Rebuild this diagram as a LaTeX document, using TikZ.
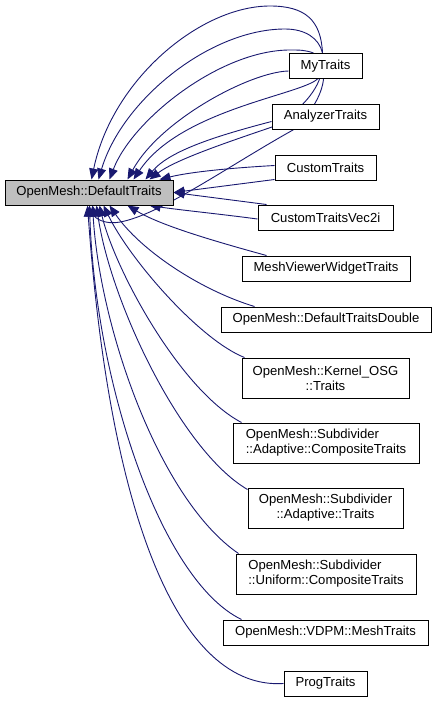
\documentclass[tikz,border=0pt]{standalone}
\usepackage{fontspec}
\setmainfont{Liberation Sans}
\usetikzlibrary{arrows.meta}
\pgfdeclarelayer{bg}
\pgfsetlayers{bg,main}
\definecolor{edgeblue}{HTML}{191970}
\definecolor{greyfill}{HTML}{BFBFBF}
\begin{document}
\begin{tikzpicture}[x=1pt,y=-1pt,
  cls/.style={draw=black, line width=1pt, fill=white, inner sep=0pt,
    minimum height=25pt, font=\fontsize{13.1}{15}\selectfont},
  edge/.style={draw=edgeblue, line width=0.9pt,
    -{Triangle[length=11pt,width=9pt]}, fill=none}]
\useasboundingbox (0,0) rectangle (436,702);

\node[cls, fill=greyfill, minimum width=168pt] (main) at (89,192.5) {OpenMesh::DefaultTraits};
\node[cls, minimum width=73pt] (my) at (325.5,66) {MyTraits};
\node[cls, minimum width=107pt] (an) at (325.5,116.5) {AnalyzerTraits};
\node[cls, minimum width=101pt] (ct) at (325.5,167.5) {CustomTraits};
\node[cls, minimum width=135pt] (cv) at (325.5,217.5) {CustomTraitsVec2i};
\node[cls, minimum width=168pt] (mv) at (326,268.5) {MeshViewerWidgetTraits};
\node[cls, minimum width=210pt] (dd) at (326,319.5) {OpenMesh::DefaultTraitsDouble};
\node[cls, minimum width=167pt, minimum height=40pt, align=center] (ko) at (325.5,378) {OpenMesh::Kernel\_OSG\\::Traits};
\node[cls, minimum width=186pt, minimum height=40pt, align=left] (ac) at (326,443) {OpenMesh::Subdivider\\::Adaptive::CompositeTraits};
\node[cls, minimum width=155pt, minimum height=40pt, align=center] (at) at (325.5,508) {OpenMesh::Subdivider\\::Adaptive::Traits};
\node[cls, minimum width=180pt, minimum height=40pt, align=left] (uc) at (326,574) {OpenMesh::Subdivider\\::Uniform::CompositeTraits};
\node[cls, minimum width=205pt] (vd) at (325.5,632.5) {OpenMesh::VDPM::MeshTraits};
\node[cls, minimum width=83pt] (pt) at (325.5,683.5) {ProgTraits};

\begin{pgfonlayer}{bg}
% edges into the top of the base class
\draw[edge] ([xshift=-3pt]my.north) .. controls (321,20) and (305,6) .. (270,6)
   .. controls (200,6) and (112,80) .. ([xshift=87pt]main.north west);
\draw[edge] ([xshift=-3pt]my.north) .. controls (319,38) and (305,29) .. (285,29)
   .. controls (210,29) and (122,100) .. ([xshift=94pt]main.north west);
\draw[edge] ([xshift=-12pt]my.north) .. controls (305,50) and (300,50) .. (290,50)
   .. controls (220,50) and (132,120) .. ([xshift=105pt]main.north west);
\draw[edge] ([yshift=-5pt]my.west) .. controls (250,72) and (160,120) .. ([xshift=123pt]main.north west);
\draw[edge] ([xshift=-8pt]my.south) .. controls (300,95) and (180,110) .. ([xshift=129pt]main.north west);
\draw[edge] ([yshift=-5pt]an.west) .. controls (220,135) and (170,150) .. ([xshift=141pt]main.north west);
\draw[edge] ([xshift=-6pt]my.south) .. controls (315,92) and (300,112) .. (272,127)
   .. controls (225,143) and (175,160) .. ([xshift=145pt]main.north west);
\draw[edge] ([yshift=2pt]ct.west) .. controls (230,168) and (190,172) .. ([xshift=155pt]main.north west);
% edges into the right side
\draw[edge] ([yshift=-12pt]ct.west) -- (main.east);
\draw[edge] ([xshift=9pt]cv.north west) -- (main.east);
% edges into the bottom
\draw[edge] ([yshift=-1.5pt]cv.west) .. controls (220,214) and (180,210) .. ([xshift=145pt]main.south west);
\draw[edge] ([xshift=-2pt]my.south) .. controls (322,95) and (310,115) .. (293,130)
   .. controls (230,165) and (160,215) .. (120,222)
   .. controls (105,225) and (95,218) .. ([xshift=88pt]main.south west);
\draw[edge] ([xshift=25pt]mv.north west) .. controls (210,240) and (160,225) .. ([xshift=123pt]main.south west);
\draw[edge] ([xshift=34pt]dd.north west) .. controls (200,290) and (140,250) .. ([xshift=105pt]main.south west);
\draw[edge] ([xshift=3pt]ko.north west) .. controls (200,340) and (130,260) .. ([xshift=99pt]main.south west);
\draw[edge] ([xshift=9pt]ac.north west) .. controls (180,390) and (115,270) .. ([xshift=95pt]main.south west);
\draw[edge] ([yshift=-2pt]at.north west) .. controls (180,450) and (110,300) .. ([xshift=92pt]main.south west);
\draw[edge] ([xshift=3pt]uc.north west) .. controls (160,500) and (100,330) .. ([xshift=88pt]main.south west);
\draw[edge] ([xshift=19pt]vd.north west) .. controls (160,580) and (95,380) .. ([xshift=85pt]main.south west);
\draw[edge] (pt.west) .. controls (180,690) and (110,520) .. ([xshift=83pt]main.south west);
\end{pgfonlayer}
\end{tikzpicture}
\end{document}
